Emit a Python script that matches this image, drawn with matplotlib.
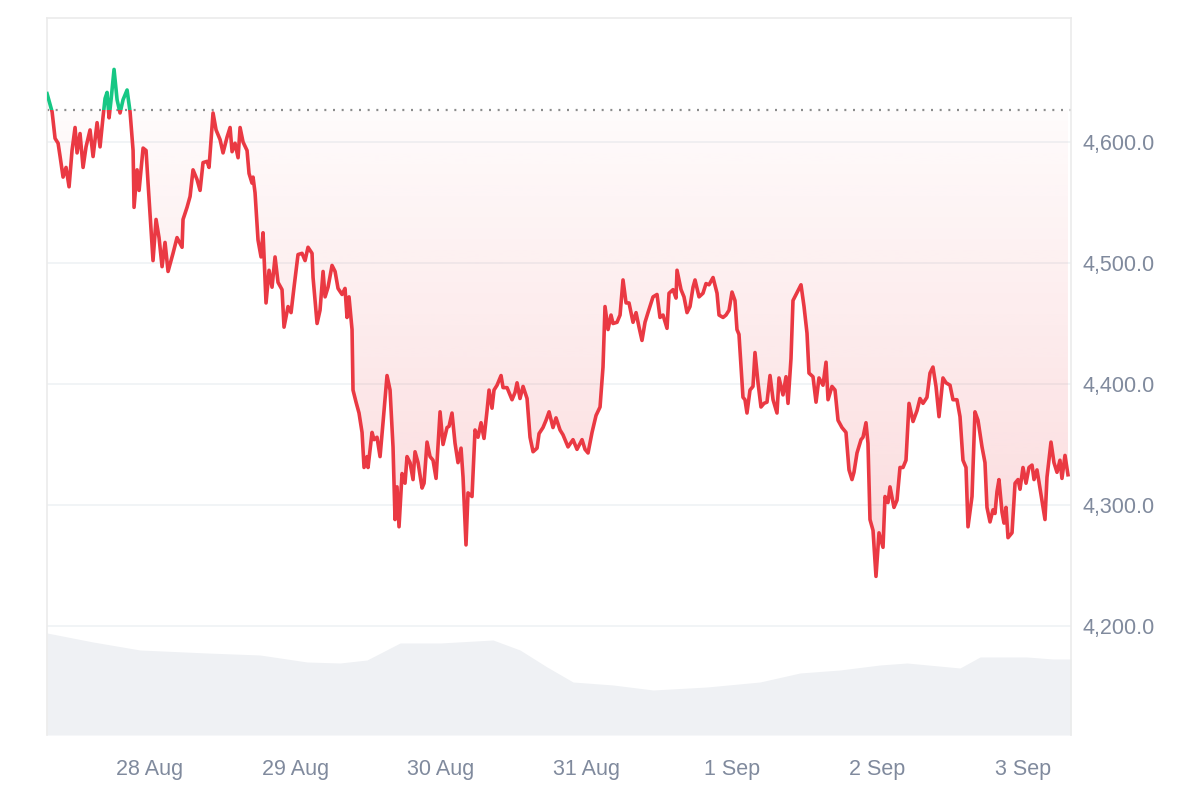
import numpy as np
import matplotlib
matplotlib.use("Agg")
import matplotlib.pyplot as plt
import matplotlib.dates as mdates
from matplotlib.patches import Rectangle, PathPatch
from matplotlib.path import Path
from matplotlib.transforms import blended_transform_factory
from matplotlib.colors import LinearSegmentedColormap
from datetime import datetime, timedelta

# ---------------- data ----------------
start_day = datetime(2025, 8, 27)
ref_price = 4626.4  # opening reference (dotted line)

# (hours since 27 Aug 00:00, price)
price_points = [
    (7.01, 4640), (7.84, 4625), (8.33, 4603), (8.83, 4599), (9.16, 4588), (9.65, 4571), (10.14, 4579),
    (10.64, 4563), (11.13, 4593), (11.63, 4612), (11.96, 4591), (12.45, 4607), (12.95, 4579), (13.44, 4596),
    (14.10, 4610), (14.60, 4588), (15.26, 4616), (15.75, 4596), (16.25, 4621), (16.58, 4636), (16.91, 4641),
    (17.24, 4620), (17.57, 4635), (18.06, 4660), (18.56, 4635), (19.05, 4624), (19.55, 4635), (20.21, 4643),
    (20.70, 4625), (21.20, 4593), (21.36, 4546), (21.86, 4577), (22.19, 4560), (22.85, 4595), (23.34, 4593),
    (23.67, 4566), (24.49, 4502), (24.99, 4536), (25.48, 4521), (25.98, 4497), (26.47, 4517), (26.97, 4493),
    (27.79, 4508), (28.45, 4521), (29.28, 4513), (29.44, 4536), (30.10, 4546), (30.60, 4555), (31.09, 4577),
    (31.75, 4569), (32.25, 4560), (32.74, 4583), (33.40, 4584), (33.73, 4579), (34.39, 4624), (34.89, 4610),
    (35.55, 4602), (36.04, 4591), (36.70, 4604), (37.20, 4612), (37.53, 4592), (38.02, 4599), (38.52, 4587),
    (38.85, 4612), (39.34, 4600), (40.00, 4593), (40.33, 4574), (40.82, 4566), (40.99, 4571), (41.32, 4558),
    (41.81, 4519), (42.31, 4505), (42.64, 4525), (43.13, 4467), (43.63, 4494), (44.12, 4480), (44.62, 4505),
    (45.11, 4484), (45.77, 4478), (46.10, 4447), (46.76, 4464), (47.26, 4459), (47.75, 4480), (48.41, 4507),
    (49.07, 4508), (49.57, 4502), (50.06, 4513), (50.72, 4508), (50.89, 4488), (51.55, 4450), (52.04, 4461),
    (52.54, 4493), (52.87, 4472), (53.36, 4480), (54.02, 4498), (54.52, 4493), (55.01, 4479), (55.67, 4474),
    (56.16, 4479), (56.49, 4455), (56.82, 4472), (57.32, 4445), (57.48, 4395), (57.98, 4385), (58.47, 4376),
    (58.97, 4360), (59.30, 4331), (59.79, 4340), (59.96, 4331), (60.62, 4360), (60.95, 4354), (61.44, 4356),
    (61.94, 4340), (62.43, 4368), (63.09, 4407), (63.59, 4395), (64.08, 4348), (64.41, 4288), (64.74, 4315),
    (65.07, 4282), (65.57, 4326), (66.06, 4318), (66.39, 4340), (66.89, 4335), (67.38, 4321), (67.71, 4344),
    (68.21, 4335), (68.87, 4314), (69.20, 4318), (69.69, 4352), (70.19, 4340), (70.68, 4337), (71.18, 4322),
    (71.84, 4377), (72.33, 4350), (72.99, 4364), (73.32, 4365), (73.81, 4376), (74.31, 4351), (74.80, 4335),
    (75.30, 4347), (75.63, 4323), (76.12, 4267), (76.45, 4310), (77.11, 4307), (77.61, 4362), (78.10, 4356),
    (78.60, 4368), (79.09, 4355), (79.59, 4378), (79.92, 4395), (80.41, 4380), (80.74, 4395), (81.24, 4399),
    (81.90, 4407), (82.23, 4397), (82.89, 4397), (83.71, 4387), (84.21, 4393), (84.54, 4401), (85.03, 4388),
    (85.53, 4398), (86.19, 4388), (86.68, 4356), (87.18, 4344), (87.84, 4347), (88.17, 4359), (88.82, 4364),
    (89.32, 4370), (89.82, 4377), (90.47, 4364), (90.97, 4372), (91.63, 4362), (92.12, 4358), (92.95, 4348),
    (93.77, 4354), (94.43, 4346), (95.26, 4354), (95.75, 4346), (96.25, 4343), (96.91, 4360), (97.57, 4374),
    (98.23, 4381), (98.72, 4414), (99.05, 4464), (99.55, 4445), (100.04, 4457), (100.37, 4450), (101.03, 4451),
    (101.53, 4457), (102.02, 4486), (102.52, 4467), (103.01, 4467), (103.67, 4451), (104.17, 4459), (104.66, 4447),
    (105.15, 4436), (105.65, 4451), (106.14, 4459), (106.97, 4472), (107.63, 4474), (108.12, 4455), (108.62, 4457),
    (109.28, 4446), (109.61, 4475), (110.27, 4478), (110.76, 4471), (110.93, 4494), (111.59, 4478), (112.08, 4472),
    (112.58, 4459), (113.07, 4464), (113.57, 4480), (113.90, 4486), (114.56, 4472), (115.21, 4475), (115.71, 4483),
    (116.21, 4482), (116.87, 4488), (117.53, 4475), (117.86, 4457), (118.52, 4455), (119.01, 4457), (119.51, 4461),
    (120.00, 4476), (120.49, 4469), (120.82, 4445), (121.15, 4441), (121.81, 4389), (122.14, 4387), (122.47, 4376),
    (122.97, 4395), (123.46, 4398), (123.79, 4426), (124.29, 4401), (124.78, 4381), (125.28, 4384), (125.77, 4385),
    (126.27, 4407), (126.77, 4387), (127.42, 4376), (127.75, 4405), (128.41, 4391), (128.91, 4406), (129.24, 4384),
    (129.73, 4421), (130.06, 4469), (130.56, 4474), (131.38, 4482), (131.88, 4464), (132.37, 4442), (132.70, 4409),
    (133.36, 4406), (133.86, 4385), (134.35, 4405), (135.01, 4399), (135.51, 4418), (135.84, 4387), (136.49, 4398),
    (136.99, 4395), (137.49, 4370), (138.14, 4364), (138.80, 4360), (139.30, 4329), (139.79, 4321), (140.12, 4327),
    (140.62, 4343), (141.28, 4354), (141.61, 4356), (142.10, 4368), (142.43, 4351), (142.76, 4288), (143.26, 4279),
    (143.75, 4241), (144.25, 4277), (144.91, 4265), (145.24, 4307), (145.73, 4302), (146.06, 4315), (146.72, 4298),
    (147.22, 4304), (147.71, 4331), (148.21, 4331), (148.70, 4337), (149.20, 4384), (149.86, 4369), (150.52, 4378),
    (151.01, 4388), (151.51, 4384), (152.16, 4389), (152.66, 4409), (153.15, 4414), (153.65, 4398), (154.15, 4373),
    (154.80, 4405), (155.30, 4401), (155.96, 4399), (156.45, 4387), (157.11, 4387), (157.61, 4373), (158.10, 4337),
    (158.60, 4331), (158.93, 4282), (159.59, 4307), (160.08, 4377), (160.58, 4370), (161.24, 4348), (161.73, 4335),
    (162.06, 4298), (162.56, 4286), (163.05, 4296), (163.38, 4293), (163.71, 4311), (164.04, 4321), (164.54, 4294),
    (164.87, 4285), (165.20, 4298), (165.53, 4273), (166.19, 4277), (166.69, 4318), (167.18, 4321), (167.51, 4313),
    (168.00, 4331), (168.50, 4318), (168.99, 4331), (169.49, 4333), (169.82, 4321), (170.31, 4329), (170.64, 4319),
    (171.30, 4298), (171.63, 4288), (171.96, 4323), (172.62, 4352), (173.11, 4335), (173.61, 4327), (174.10, 4337),
    (174.43, 4322), (174.93, 4341), (175.42, 4325),
]

# (hours since 27 Aug 00:00, volume in billions USD)
volume_points = [
    (7.01, 40.8), (14.60, 37.2), (22.35, 34.0), (33.40, 32.8), (42.14, 32.0), (49.90, 29.2),
    (55.34, 28.8), (59.79, 30.0), (65.24, 36.8), (71.84, 36.8), (80.58, 38.0), (85.03, 34.0),
    (89.49, 27.2), (93.77, 21.2), (100.37, 20.0), (106.97, 18.0), (115.88, 19.2), (124.62, 21.2),
    (131.21, 24.8), (137.82, 26.0), (144.41, 28.0), (148.86, 28.8), (157.61, 26.8), (160.91, 31.2),
    (168.66, 31.2), (172.95, 30.4), (175.92, 30.4),
]

y_ticks = [4200, 4300, 4400, 4500, 4600]

# ---------------- styling ----------------
RED = "#ea3943"
GREEN = "#16c784"
GRID = "#eff2f5"
TEXT = "#808a9d"
VOL = "#eff1f4"

price_h, prices = map(np.array, zip(*price_points))
vol_h, vols = map(np.array, zip(*volume_points))
t_price = mdates.date2num([start_day + timedelta(hours=float(h)) for h in price_h])
t_vol = mdates.date2num([start_day + timedelta(hours=float(h)) for h in vol_h])
x_left = mdates.date2num(start_day + timedelta(hours=7.0))
x_right = mdates.date2num(start_day + timedelta(hours=175.92))

fig = plt.figure(figsize=(12, 8), dpi=100)
rect = [47 / 1200, 1 - 735 / 800, (1071 - 47) / 1200, (735 - 18) / 800]

# volume axes (behind)
axv = fig.add_axes(rect)
axv.fill_between(t_vol, 0, vols, color=VOL, linewidth=0)
axv.set_xlim(x_left, x_right)
axv.set_ylim(0, 286.8)
axv.axis("off")

ax = fig.add_axes(rect)
ax.patch.set_visible(False)
ax.set_xlim(x_left, x_right)
ax.set_ylim(4109.9, 4702.5)

# grid
for yt in y_ticks:
    ax.axhline(yt, color=GRID, lw=1.2, zorder=0)

# gradient fills
def gradient_fill(lower_vals, upper_vals, color, a_top, a_bot, ylo, yhi):
    verts = list(zip(t_price, upper_vals)) + list(zip(t_price[::-1], lower_vals[::-1]))
    path = Path(verts + [verts[0]], closed=True)
    patch = PathPatch(path, facecolor="none", edgecolor="none")
    ax.add_patch(patch)
    cmap = LinearSegmentedColormap.from_list(
        "g", [(*matplotlib.colors.to_rgb(color), a_bot), (*matplotlib.colors.to_rgb(color), a_top)])
    grad = np.linspace(0, 1, 256).reshape(-1, 1)
    im = ax.imshow(grad, aspect="auto", cmap=cmap, origin="lower",
                   extent=[x_left, x_right, ylo, yhi], zorder=1, interpolation="bilinear")
    im.set_clip_path(patch)

below = np.minimum(prices, ref_price)
above = np.maximum(prices, ref_price)
gradient_fill(below, np.full_like(prices, ref_price), RED, 0.02, 0.19, 4240, ref_price)
gradient_fill(np.full_like(prices, ref_price), above, GREEN, 0.15, 0.02, ref_price, 4665)
ax.set_xlim(x_left, x_right)
ax.set_ylim(4109.9, 4702.5)

# baseline dotted
ax.axhline(ref_price, color="#8c8c8c", lw=1.6, linestyle=(0, (0.9, 3.0)), zorder=2)

# price line split
bt = blended_transform_factory(ax.transAxes, ax.transData)
clip_up = Rectangle((0, ref_price), 1, 1000, transform=bt)
clip_dn = Rectangle((0, ref_price - 1000), 1, 1000, transform=bt)
l_red, = ax.plot(t_price, prices, color=RED, lw=2.6, zorder=3, solid_joinstyle="round")
l_red.set_clip_path(clip_dn)
l_green, = ax.plot(t_price, prices, color=GREEN, lw=2.6, zorder=3, solid_joinstyle="round")
l_green.set_clip_path(clip_up)

# axes styling
for s in ["top", "left", "right"]:
    ax.spines[s].set_color("#ebebeb")
    ax.spines[s].set_linewidth(1.2)
ax.spines["bottom"].set_visible(False)

ax.yaxis.tick_right()
ax.set_yticks(y_ticks)
ax.set_yticklabels([f"{v:,.1f}" for v in y_ticks])
ax.tick_params(axis="y", length=0, pad=8.5, labelsize=15.5, labelcolor=TEXT)

ax.xaxis.set_major_locator(mdates.DayLocator())
ax.xaxis.set_major_formatter(mdates.DateFormatter("%-d %b"))
ax.tick_params(axis="x", length=0, pad=17, labelsize=15.5, labelcolor=TEXT)

for lab in ax.get_xticklabels() + ax.get_yticklabels():
    lab.set_fontfamily("Liberation Sans")

fig.savefig("out.png", dpi=100, facecolor="white")
